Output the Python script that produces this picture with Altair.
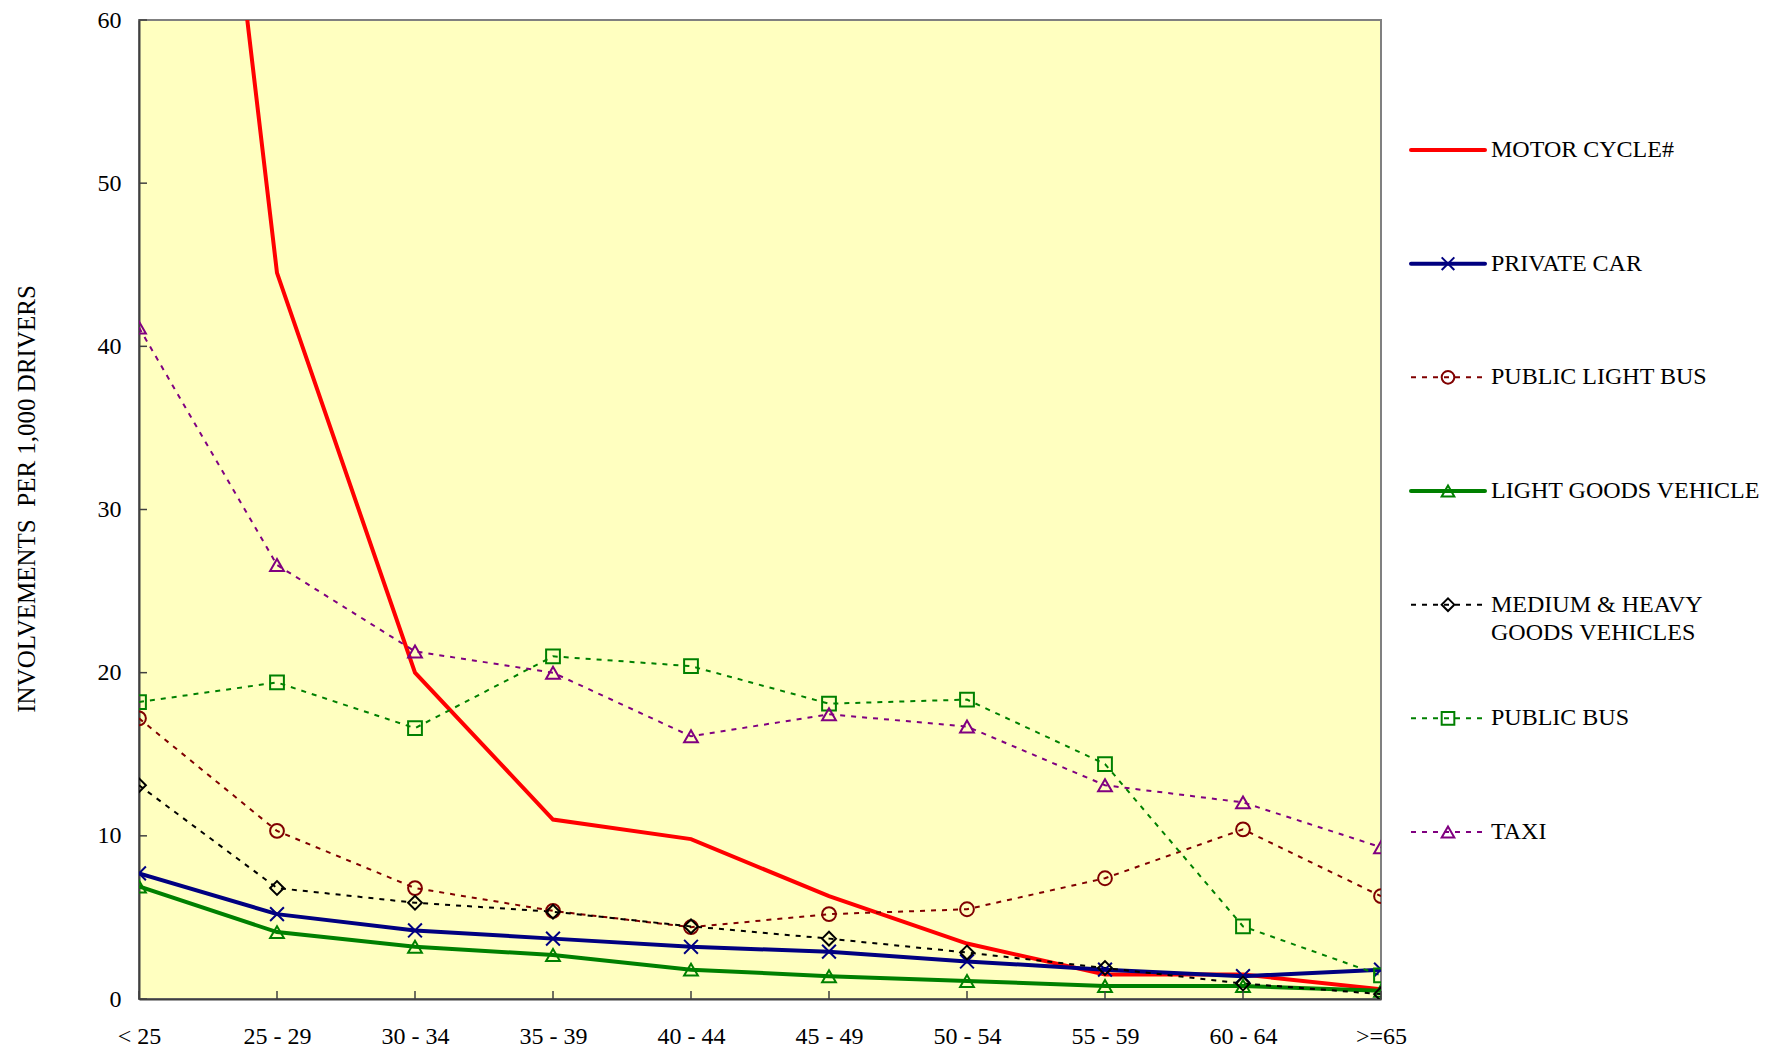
import altair as alt
import pandas as pd

# ---- data ----
ages = ["< 25", "25 - 29", "30 - 34", "35 - 39", "40 - 44",
        "45 - 49", "50 - 54", "55 - 59", "60 - 64", ">=65"]

motor_cycle = [116.5, 44.5, 20.0, 11.0, 9.8, 6.3, 3.4, 1.5, 1.5, 0.6]
private_car = [7.7, 5.2, 4.2, 3.7, 3.2, 2.9, 2.3, 1.8, 1.4, 1.8]
public_light_bus = [17.2, 10.3, 6.8, 5.4, 4.4, 5.2, 5.5, 7.4, 10.4, 6.3]
light_goods = [6.9, 4.1, 3.2, 2.7, 1.8, 1.4, 1.1, 0.8, 0.8, 0.5]
med_heavy_goods = [13.1, 6.8, 5.9, 5.35, 4.45, 3.7, 2.85, 1.9, 0.95, 0.3]
public_bus = [18.2, 19.4, 16.6, 21.0, 20.4, 18.1, 18.35, 14.4, 4.45, 1.45]
taxi = [41.15, 26.6, 21.3, 20.0, 16.1, 17.45, 16.7, 13.1, 12.05, 9.3]

series_names = ["MOTOR CYCLE#", "PRIVATE CAR", "PUBLIC LIGHT BUS",
                "LIGHT GOODS VEHICLE", "MEDIUM & HEAVY GOODS VEHICLES",
                "PUBLIC BUS", "TAXI"]
legend_labels = ["MOTOR CYCLE#", "PRIVATE CAR", "PUBLIC LIGHT BUS",
                 "\u00a0 LIGHT GOODS VEHICLE", "MEDIUM & HEAVY\nGOODS VEHICLES",
                 "PUBLIC BUS", "TAXI"]
series_values = [motor_cycle, private_car, public_light_bus, light_goods,
                 med_heavy_goods, public_bus, taxi]
y_ticks = [0, 10, 20, 30, 40, 50, 60]

# ---- styles ----
colors = ["#FF0000", "#000080", "#800000", "#008000", "#000000", "#008000", "#800080"]
shapes = ["circle", "M-1,-1L1,1M-1,1L1,-1", "circle", "triangle-up",
          "diamond", "square", "triangle-up"]
solid_series = ["MOTOR CYCLE#", "PRIVATE CAR", "LIGHT GOODS VEHICLE"]
dotted_series = [s for s in series_names if s not in solid_series]
marker_series = series_names[1:]
dashes = [[1, 0] if s in solid_series else [5, 6] for s in series_names]

W, H = 1242, 979
FONT = "Liberation Serif"

rows = []
for name, vals in zip(series_names, series_values):
    for a, v in zip(ages, vals):
        rows.append({"age": a, "series": name, "value": v})
df = pd.DataFrame(rows)

legend_df = pd.DataFrame({"series": series_names, "label": legend_labels})
ytick_df = pd.DataFrame({"value": y_ticks})
xtick_df = pd.DataFrame({"age": ages})

x_enc = alt.X("age:O", sort=ages, scale=alt.Scale(type="point", padding=0),
              axis=alt.Axis(title=None, labelAngle=0, ticks=False, tickSize=0,
                            grid=False, domainColor="#404040", domainWidth=2,
                            labelPadding=25, labelFontSize=24))
y_enc = alt.Y("value:Q", scale=alt.Scale(domain=[0, 60], nice=False, zero=True),
              axis=alt.Axis(values=y_ticks, title="INVOLVEMENTS\u00a0 PER 1,000 DRIVERS",
                            ticks=False, tickSize=0, grid=False, domainColor="#404040",
                            domainWidth=2, labelPadding=18, labelFlush=False,
                            titlePadding=58, titleY=H / 2 - 11,
                            labelFontSize=24, titleFontSize=25))
color_enc = alt.Color("series:N", scale=alt.Scale(domain=series_names, range=colors), legend=None)
dash_enc = alt.StrokeDash("series:N", scale=alt.Scale(domain=series_names, range=dashes), legend=None)
shape_enc = alt.Shape("series:N", scale=alt.Scale(domain=series_names, range=shapes), legend=None)

base = alt.Chart(df)
lines_solid = base.transform_filter(
    alt.FieldOneOfPredicate(field="series", oneOf=solid_series)
).mark_line(strokeWidth=4, clip=True).encode(x=x_enc, y=y_enc, color=color_enc)

lines_dotted = base.transform_filter(
    alt.FieldOneOfPredicate(field="series", oneOf=dotted_series)
).mark_line(strokeWidth=2, clip=True).encode(x=x_enc, y=y_enc, color=color_enc, strokeDash=dash_enc)

points = base.transform_filter(
    alt.FieldOneOfPredicate(field="series", oneOf=marker_series)
).mark_point(filled=False, size=190, strokeWidth=2, clip=True, opacity=1).encode(
    x=x_enc, y=y_enc, color=color_enc, shape=shape_enc)

yticks = alt.Chart(ytick_df).mark_rule(color="#404040", strokeWidth=1.5).encode(
    y=y_enc, x=alt.value(0), x2=alt.value(8))
xticks = alt.Chart(xtick_df).mark_rule(color="#404040", strokeWidth=1.5).encode(
    x=x_enc, y=alt.value(H), y2=alt.value(H - 8))

main = alt.layer(lines_solid, lines_dotted, points, yticks, xticks)

# ---- legend drawn at the right of the plot ----
leg_y = alt.Y("series:N", scale=alt.Scale(type="point", domain=series_names,
                                          range=[130, 812], padding=0), axis=None)
leg_base = alt.Chart(legend_df)
leg_solid = leg_base.transform_filter(
    alt.FieldOneOfPredicate(field="series", oneOf=solid_series)
).mark_rule(strokeWidth=4, strokeCap="round").encode(
    x=alt.value(1272), x2=alt.value(1346), y=leg_y, color=color_enc)
leg_dotted = leg_base.transform_filter(
    alt.FieldOneOfPredicate(field="series", oneOf=dotted_series)
).mark_rule(strokeWidth=2).encode(
    x=alt.value(1272), x2=alt.value(1346), y=leg_y, color=color_enc, strokeDash=dash_enc)
leg_points = leg_base.transform_filter(
    alt.FieldOneOfPredicate(field="series", oneOf=marker_series)
).mark_point(filled=False, size=160, strokeWidth=2, opacity=1).encode(
    x=alt.value(1309), y=leg_y, color=color_enc, shape=shape_enc)
leg_text = leg_base.mark_text(align="left", baseline="top", dy=-12, font=FONT,
                              fontSize=24, lineBreak="\n", lineHeight=28,
                              color="black").encode(
    x=alt.value(1352), y=leg_y, text="label:N")
legend = alt.layer(leg_solid, leg_dotted, leg_points, leg_text)

chart = alt.layer(main, legend).resolve_scale(y="independent").properties(
    width=W, height=H,
    padding={"left": 131, "top": 12, "right": 380, "bottom": 48},
    autosize=alt.AutoSizeParams(type="none"),
).configure_view(
    fill="#FFFFC0", stroke="#808080", strokeWidth=2
).configure_axis(
    labelFont=FONT, titleFont=FONT, labelColor="black", titleColor="black",
    titleFontWeight="normal"
)

chart.save("out.html", embed_options={"renderer": "svg", "actions": False})
